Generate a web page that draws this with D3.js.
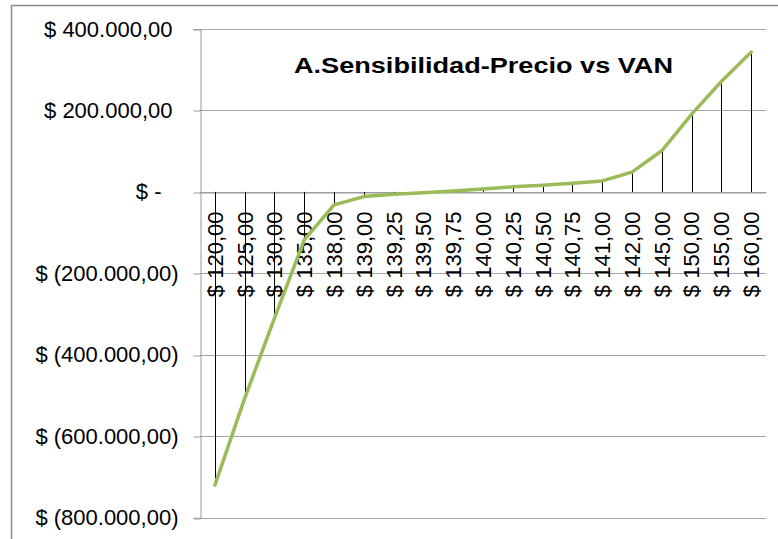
<!DOCTYPE html>
<html lang="es">
<head>
    <meta charset="UTF-8">
    <title>A.Sensibilidad-Precio vs VAN</title>
    <script src="https://d3js.org/d3.v7.min.js" charset="utf-8"></script>
    <style>
        body { margin: 0; background: #ffffff; }
        svg { display: block; font-family: "Liberation Sans", Arial, sans-serif; }
    </style>
</head>
<body>
    <div id="chart"></div>
    <script>

    // data
    var precios = ['$ 120,00', '$ 125,00', '$ 130,00', '$ 135,00', '$ 138,00', '$ 139,00',
                   '$ 139,25', '$ 139,50', '$ 139,75', '$ 140,00', '$ 140,25', '$ 140,50',
                   '$ 140,75', '$ 141,00', '$ 142,00', '$ 145,00', '$ 150,00', '$ 155,00', '$ 160,00'];
    var van = [-720000, -507000, -310000, -118000, -32000, -11500,
               -6000, -2000, 2000, 7000, 12500, 16500,
               21000, 27000, 48500, 101000, 190500, 271000, 343000];
    var yTicks = [400000, 200000, 0, -200000, -400000, -600000, -800000];
    var yTickLabels = ['$ 400.000,00', '$ 200.000,00', '$ -', '$ (200.000,00)',
                       '$ (400.000,00)', '$ (600.000,00)', '$ (800.000,00)'];
    var titulo = 'A.Sensibilidad-Precio vs VAN';

    var svgWidth = 778;
    var svgHeight = 539;

    var svg = d3.select('#chart')
                .append('svg')
                .attr('width', svgWidth)
                .attr('height', svgHeight);

    // chart frame
    svg.append('rect')
        .attr('x', 11.5)
        .attr('y', 5.5)
        .attr('width', 800)
        .attr('height', 600)
        .attr('fill', '#ffffff')
        .attr('stroke', '#8c8c8c')
        .attr('stroke-width', 1.5);

    var plotLeft = 200, plotRight = 766, plotTop = 29, plotBottom = 517.7;

    var x = d3.scaleBand()
        .domain(precios)
        .range([plotLeft, plotRight])
        .padding(0);

    var y = d3.scaleLinear()
        .domain([-800000, 400000])
        .range([plotBottom, plotTop]);

    var cx = function(d) { return x(d) + x.bandwidth() / 2; };

    // gridlines
    svg.append('g')
        .selectAll('line')
        .data(yTicks)
        .enter()
        .append('line')
        .attr('x1', plotLeft)
        .attr('x2', plotRight)
        .attr('y1', d => Math.round(y(d)) + 0.5)
        .attr('y2', d => Math.round(y(d)) + 0.5)
        .attr('stroke', '#a6a6a6')
        .attr('stroke-width', 1);

    // y axis
    var yAxis = d3.axisLeft(y)
        .tickValues(yTicks)
        .tickSize(7)
        .tickPadding(15)
        .tickFormat((d, i) => yTickLabels[i]);

    var gy = svg.append('g')
        .attr('transform', 'translate(' + (plotLeft + 0.5) + ',0)')
        .call(yAxis);

    gy.select('.domain').attr('stroke', '#999999');
    gy.selectAll('.tick line')
        .attr('stroke', '#999999')
        .attr('transform', d => 'translate(0,' + (Math.round(y(d)) + 0.5 - y(d)) + ')');
    gy.selectAll('.tick text')
        .attr('fill', '#000000')
        .style('font-size', '22px')
        .attr('dx', d => d > 0 ? -6 : (d === 0 ? -17 : 0));

    // x axis at zero with rotated labels
    var xAxis = d3.axisBottom(x)
        .tickSize(0)
        .tickPadding(0);

    var gx = svg.append('g')
        .attr('transform', 'translate(0,' + (Math.round(y(0)) + 0.5) + ')')
        .call(xAxis);

    gx.select('.domain').attr('stroke', '#999999');
    gx.selectAll('.tick text')
        .attr('fill', '#000000')
        .style('font-size', '22px')
        .attr('text-anchor', 'end')
        .attr('transform', 'rotate(-90)')
        .attr('x', -19)
        .attr('y', 0)
        .attr('dy', '0.36em');

    // drop lines
    svg.append('g')
        .selectAll('line')
        .data(precios)
        .enter()
        .append('line')
        .attr('x1', d => Math.round(cx(d)) + 0.5)
        .attr('x2', d => Math.round(cx(d)) + 0.5)
        .attr('y1', y(0))
        .attr('y2', (d, i) => y(van[i]))
        .attr('stroke', '#000000')
        .attr('stroke-width', 1);

    // VAN line
    var line = d3.line()
        .x(d => cx(d))
        .y((d, i) => y(van[i]));

    svg.append('path')
        .datum(precios)
        .attr('d', line)
        .attr('fill', 'none')
        .attr('stroke', '#9bbb59')
        .attr('stroke-width', 3.5)
        .attr('stroke-linejoin', 'round')
        .attr('stroke-linecap', 'round');

    // title
    svg.append('text')
        .attr('x', 294)
        .attr('y', 73)
        .attr('textLength', 379)
        .attr('lengthAdjust', 'spacingAndGlyphs')
        .style('font-size', '22px')
        .style('font-weight', 'bold')
        .text(titulo);

    </script>
</body>
</html>
